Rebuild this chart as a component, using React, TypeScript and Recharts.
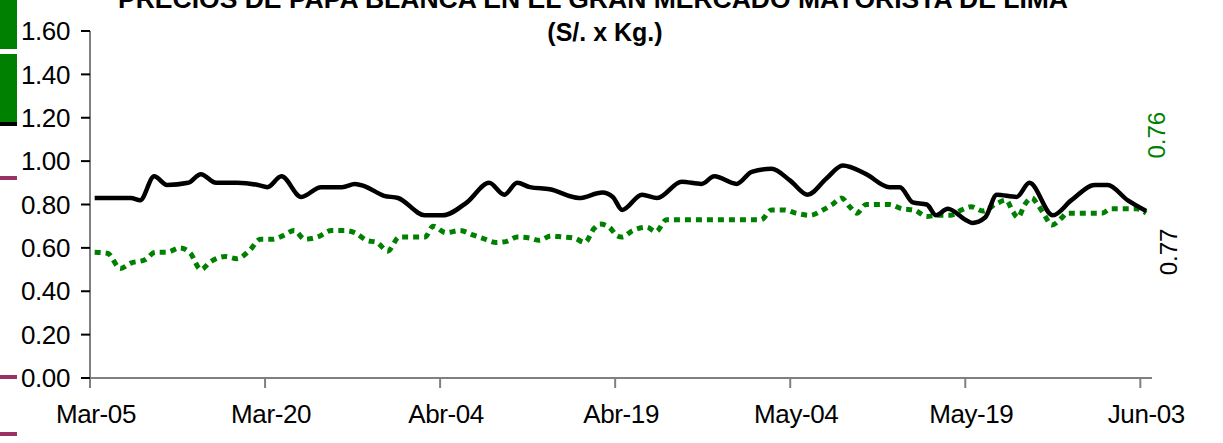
import React from "react";
import { LineChart, Line, XAxis, YAxis } from "recharts";

// día 0 = Mar-05
const tickDays = [0, 15, 30, 45, 60, 75, 90];
const tickLabels = ["Mar-05", "Mar-20", "Abr-04", "Abr-19", "May-04", "May-19", "Jun-03"];
const yTicks = [0, 0.2, 0.4, 0.6, 0.8, 1.0, 1.2, 1.4, 1.6];

const blackDays = [
  0.4, 3.5, 4.3, 5.5, 6.6, 8.4, 9.5, 10.8, 12.6, 14.4, 15.2, 16.4, 18.1, 19.8, 21.6, 22.7,
  23.5, 25.2, 26.4, 28.7, 30.2, 32.3, 34.2, 35.5, 36.6, 37.7, 39.4, 41.9, 43.9, 44.8, 45.6,
  47.3, 48.6, 50.7, 52.4, 53.5, 55.4, 56.7, 58.4, 60.0, 61.5, 63.1, 64.5, 66.5, 68.5, 69.4,
  70.5, 71.7, 72.5, 73.5, 75.0, 75.6, 76.7, 77.7, 79.4, 80.5, 82.5, 84.1, 86.1, 87.2, 88.9, 90.5,
];
const blackValues = [
  0.83, 0.83, 0.82, 0.93, 0.89, 0.9, 0.94, 0.9, 0.9, 0.89, 0.88, 0.93, 0.835, 0.88, 0.88, 0.895,
  0.885, 0.84, 0.83, 0.75, 0.75, 0.81, 0.9, 0.845, 0.9, 0.88, 0.87, 0.83, 0.855, 0.835, 0.775,
  0.845, 0.83, 0.905, 0.895, 0.93, 0.895, 0.95, 0.965, 0.91, 0.845, 0.92, 0.98, 0.94, 0.88, 0.88,
  0.81, 0.8, 0.75, 0.78, 0.73, 0.715, 0.74, 0.845, 0.835, 0.9, 0.75, 0.82, 0.89, 0.89, 0.82, 0.77,
];

const greenDays = [
  0.4, 1.5, 2.6, 3.5, 4.7, 5.6, 6.6, 7.7, 8.6, 9.5, 10.3, 11.6, 12.6, 13.7, 14.6, 15.6, 16.5,
  17.5, 18.4, 19.5, 20.7, 21.8, 22.7, 23.7, 24.6, 25.5, 26.5, 27.5, 28.7, 29.4, 30.5, 31.7, 32.8,
  33.6, 34.8, 35.7, 36.6, 37.7, 38.5, 39.5, 40.5, 41.5, 42.4, 43.2, 43.7, 44.5, 45.2, 45.6, 46.5,
  47.7, 48.5, 49.4, 50.7, 57.5, 58.4, 59.5, 60.5, 61.7, 62.8, 63.6, 64.4, 65.1, 65.7, 66.5, 67.7,
  68.5, 69.6, 70.6, 71.7, 72.6, 73.7, 74.7, 75.5, 76.5, 77.7, 78.5, 79.1, 79.5, 80.1, 80.7, 81.2,
  81.8, 82.4, 83.3, 83.7, 84.6, 86.7, 87.5, 89.7, 90.5,
];
const greenValues = [
  0.58, 0.575, 0.505, 0.53, 0.545, 0.58, 0.58, 0.6, 0.575, 0.5, 0.535, 0.56, 0.55, 0.59, 0.64, 0.64,
  0.655, 0.68, 0.64, 0.65, 0.68, 0.68, 0.67, 0.635, 0.625, 0.585, 0.65, 0.65, 0.65, 0.7, 0.67, 0.68,
  0.66, 0.645, 0.625, 0.63, 0.65, 0.645, 0.635, 0.655, 0.65, 0.645, 0.625, 0.69, 0.71, 0.695, 0.655,
  0.65, 0.68, 0.695, 0.675, 0.73, 0.73, 0.73, 0.775, 0.775, 0.76, 0.75, 0.775, 0.8, 0.83, 0.79, 0.76,
  0.8, 0.8, 0.8, 0.78, 0.775, 0.745, 0.75, 0.75, 0.775, 0.79, 0.77, 0.805, 0.82, 0.765, 0.74, 0.8,
  0.83, 0.8, 0.75, 0.705, 0.74, 0.76, 0.76, 0.76, 0.78, 0.78, 0.76,
];

const FONT = "'Liberation Sans', Arial, sans-serif";
const GREEN = "#008000";

const blackData = blackDays.map((day, i) => ({ day, value: blackValues[i] }));
const greenData = greenDays.map((day, i) => ({ day, value: greenValues[i] }));

function endLabel(color: string, dx: number, dy: number, count: number) {
  return (props: any) => {
    const { x, y, index, value } = props;
    if (index !== count - 1) return null;
    const cx = x + dx;
    const cy = y + dy;
    return (
      <text
        x={cx}
        y={cy}
        fill={color}
        fontSize={24}
        fontFamily={FONT}
        textAnchor="middle"
        dominantBaseline="central"
        transform={`rotate(-90 ${cx} ${cy})`}
      >
        {Number(value).toFixed(2)}
      </text>
    );
  };
}

const tickStyle = { fill: "#000", fontSize: 26, fontFamily: FONT, letterSpacing: -0.4 };

export default function App() {
  return (
    <div style={{ position: "relative", width: 1223, height: 443, background: "#fff" }}>
      <style>{`body { margin: 0; }`}</style>
      <LineChart width={1223} height={443} margin={{ top: 31, right: 71, bottom: 0, left: 0 }}>
        <XAxis
          dataKey="day"
          type="number"
          domain={[0, 91]}
          ticks={tickDays}
          tickFormatter={(d: number) => tickLabels[tickDays.indexOf(d)]}
          height={65}
          tickSize={10}
          tickMargin={17}
          stroke="#808080"
          strokeWidth={2}
          tick={{ ...tickStyle, dx: 6 }}
        />
        <YAxis
          type="number"
          domain={[0, 1.6]}
          ticks={yTicks}
          tickFormatter={(v: number) => v.toFixed(2)}
          width={90}
          tickSize={9}
          tickMargin={11}
          stroke="#808080"
          strokeWidth={2}
          tickLine={{ stroke: "#000" }}
          tick={tickStyle}
        />
        <Line
          data={greenData}
          dataKey="value"
          type="monotone"
          stroke={GREEN}
          strokeWidth={5}
          strokeDasharray="6 5"
          dot={false}
          isAnimationActive={false}
          label={endLabel(GREEN, 10, -78, greenData.length)}
        />
        <Line
          data={blackData}
          dataKey="value"
          type="monotone"
          stroke="#000"
          strokeWidth={4.5}
          dot={false}
          isAnimationActive={false}
          label={endLabel("#000", 22, 41, blackData.length)}
        />
      </LineChart>
      <svg
        width={1223}
        height={443}
        style={{ position: "absolute", left: 0, top: 0, pointerEvents: "none" }}
      >
        <text
          x={593}
          y={8}
          textAnchor="middle"
          fontSize={26}
          fontWeight="bold"
          fontFamily={FONT}
          textLength={950}
          lengthAdjust="spacingAndGlyphs"
        >
          PRECIOS DE PAPA BLANCA EN EL GRAN MERCADO MAYORISTA DE LIMA
        </text>
        <text x={605} y={41} textAnchor="middle" fontSize={25} fontWeight="bold" fontFamily={FONT}>
          (S/. x Kg.)
        </text>
        <rect x={0} y={0} width={17} height={49} fill={GREEN} />
        <rect x={0} y={54} width={17} height={68} fill={GREEN} />
        <rect x={0} y={122} width={17} height={4} fill="#000" />
        <rect x={0} y={176} width={17} height={4} fill="#993366" />
        <rect x={0} y={375} width={17} height={4} fill="#993366" />
        <rect x={0} y={432} width={17} height={4} fill="#993366" />
      </svg>
    </div>
  );
}
